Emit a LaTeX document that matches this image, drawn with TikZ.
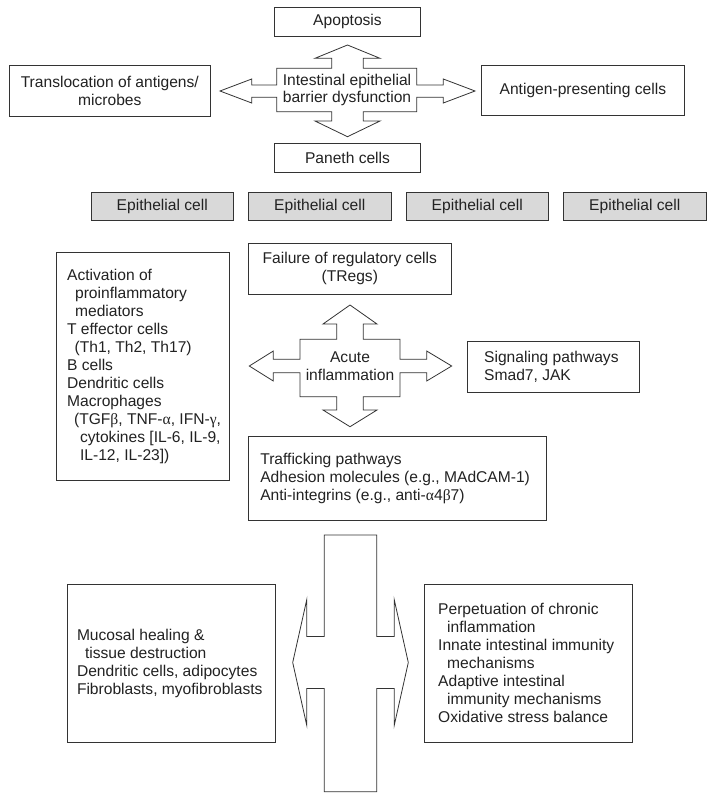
\documentclass[tikz,border=0pt]{standalone}
\usepackage{fontspec}
\setmainfont{Liberation Sans}
\newfontfamily\grk{Liberation Serif}
\usepackage{xcolor}
\usepackage{tikz}
\usetikzlibrary{calc}
\definecolor{ink}{HTML}{222222}
\definecolor{edge}{HTML}{333333}
\definecolor{cellfill}{HTML}{D9D9D9}
\tikzset{
  box/.style={draw=edge, line width=1pt, fill=white, inner sep=0pt, text=ink, align=center},
  cell/.style={box, fill=cellfill, minimum width=142.5pt, minimum height=28.4pt},
  txt/.style={text=ink, inner sep=0pt, align=left, anchor=west},
  outl/.style={draw=edge, line width=0.8pt, line join=miter, fill=white},
}

\begin{document}
\begin{tikzpicture}[x=1pt, y=-1pt, font=\fontsize{15.6}{18}\selectfont]
  \useasboundingbox (0,0) rectangle (714,801);

  % barrier cross
  \draw[outl] (276.7,68.3) -- (331.7,68.3) -- (331.7,58.3) -- (315,58.3) -- (347.5,45) -- (380,58.3) -- (363.3,58.3) -- (363.3,68.3)
    -- (416.7,68.3) -- (416.7,85) -- (443.3,85) -- (443.3,79) -- (475,91) -- (443.3,103) -- (443.3,97.3) -- (416.7,97.3)
    -- (416.7,111.7) -- (363.3,111.7) -- (363.3,121) -- (380,121) -- (347.5,136.7) -- (315,121) -- (331.7,121) -- (331.7,111.7)
    -- (276.7,111.7) -- (276.7,97.3) -- (251.7,97.3) -- (251.7,103) -- (220,91) -- (251.7,79) -- (251.7,85) -- (276.7,85) -- cycle;
  \node[txt, anchor=center, align=center, font=\fontsize{15.6}{17}\selectfont] (iebd) at (347,90) {Intestinal epithelial\\barrier dysfunction};

  \node[box, minimum width=146pt, minimum height=28.5pt] (apop) at (347.5,21.75) {Apoptosis};
  \node[box, minimum width=201.5pt, minimum height=51pt] (transl) at (109.8,90.5) {Translocation of antigens/\\microbes};
  \node[box, minimum width=202.5pt, minimum height=50.7pt] (apc) at (582.9,90.4) {Antigen-presenting cells};
  \node[box, minimum width=146pt, minimum height=29pt] (paneth) at (347.5,157.5) {Paneth cells};

  \foreach \i in {0,...,3}{
    \node[cell] (epi\i) at ({162.25+157.5*\i},206.5) {Epithelial cell};
  }

  % acute inflammation cross
  \draw[outl] (300,339.3) -- (336.7,339.3) -- (336.7,324) -- (323,324) -- (350,305) -- (377,324) -- (363.3,324) -- (363.3,339.3)
    -- (400,339.3) -- (400,359.3) -- (426.7,359.3) -- (426.7,351) -- (451.7,366) -- (426.7,381) -- (426.7,372.7) -- (400,372.7)
    -- (400,396.7) -- (363.3,396.7) -- (363.3,410) -- (377,410) -- (350,426.7) -- (323,410) -- (336.7,410) -- (336.7,396.7)
    -- (300,396.7) -- (300,372.7) -- (273.3,372.7) -- (273.3,381) -- (249.3,366) -- (273.3,351) -- (273.3,359.3) -- (300,359.3) -- cycle;
  \node[txt, anchor=center, align=center] (acute) at (350,366.7) {Acute\\inflammation};

  \node[box, minimum width=202.4pt, minimum height=51pt] (treg) at (349.8,268.8) {Failure of regulatory cells\\(TRegs)};

  \node[box, minimum width=172.6pt, minimum height=228pt] (actv) at (142.7,366.7) {};
  \node[txt] (actvtxt) at ([xshift=11pt]actv.west) {Activation of\\
    \hspace*{8pt}proinflammatory\\
    \hspace*{8pt}mediators\\
    T effector cells\\
    \hspace*{7.5pt}(Th1, Th2, Th17)\\
    B cells\\
    Dendritic cells\\
    Macrophages\\
    \hspace*{7pt}(TGF{\grk β}, TNF-{\grk α}, IFN-{\grk γ},\\
    \hspace*{13pt}cytokines [IL-6, IL-9,\\
    \hspace*{13pt}IL-12, IL-23])};

  \node[box, minimum width=172.5pt, minimum height=50.6pt] (sig) at (553.25,367) {};
  \node[txt] (sigtxt) at ([xshift=17.5pt]sig.west) {Signaling pathways\\Smad7, JAK};

  \node[box, minimum width=297.4pt, minimum height=84.7pt] (traf) at (397.3,478.35) {};
  \node[txt] (traftxt) at ([xshift=12pt]traf.west) {Trafficking pathways\\
    Adhesion molecules (e.g., MAdCAM-1)\\
    Anti-integrins (e.g., anti-{\grk α}4{\grk β}7)};

  % chronic phase cross
  \draw[outl] (324.3,535) -- (376.7,535) -- (376.7,636.5) -- (394.2,636.5) -- (394.2,599.5) -- (408.3,662.5) -- (394.2,725.5)
    -- (394.2,688.5) -- (376.7,688.5) -- (376.7,791.7) -- (324.3,791.7) -- (324.3,688.5) -- (306.8,688.5) -- (306.8,725.5)
    -- (292.7,662.5) -- (306.8,599.5) -- (306.8,636.5) -- (324.3,636.5) -- cycle;

  \node[box, minimum width=208.2pt, minimum height=158pt] (heal) at (171.4,663.3) {};
  \node[txt] (healtxt) at ([xshift=10pt]heal.west) {Mucosal healing \&\\
    \hspace*{8pt}tissue destruction\\
    Dendritic cells, adipocytes\\
    Fibroblasts, myofibroblasts};

  \node[box, minimum width=207.8pt, minimum height=158pt] (chron) at (528.4,663.3) {};
  \node[txt] (chrontxt) at ([xshift=14pt]chron.west) {Perpetuation of chronic\\
    \hspace*{9pt}inflammation\\
    Innate intestinal immunity\\
    \hspace*{9pt}mechanisms\\
    Adaptive intestinal\\
    \hspace*{9pt}immunity mechanisms\\
    Oxidative stress balance};
\end{tikzpicture}
\end{document}
